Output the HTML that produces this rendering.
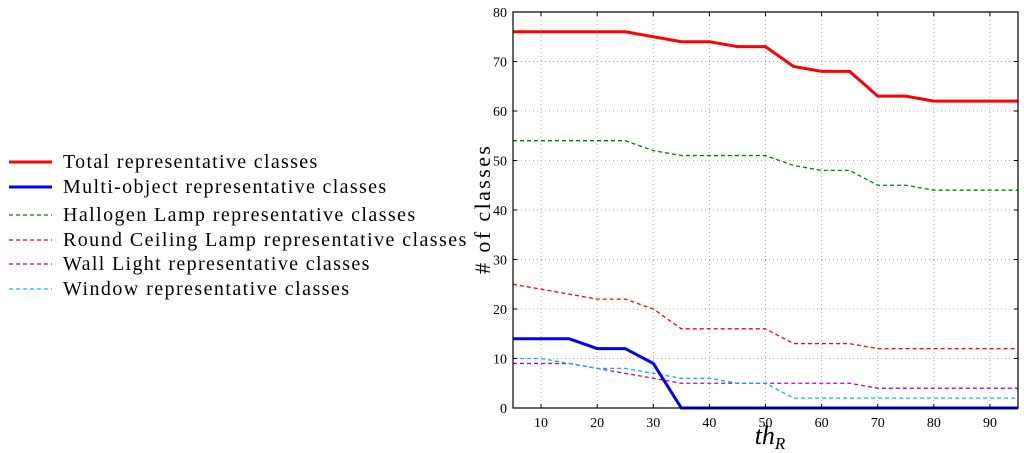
<!DOCTYPE html>
<html><head><meta charset="utf-8"><style>
body{margin:0;background:#fff;}
svg{display:block;font-family:"Liberation Serif",serif;}
</style></head><body>
<svg id="c" width="1024" height="453"></svg>
<script>
const xs=[5,10,15,20,25,30,35,40,45,50,55,60,65,70,75,80,85,90,95];
const totalVals=[76,76,76,76,76,75,74,74,73,73,69,68,68,63,63,62,62,62,62];
const multiVals=[14,14,14,12,12,9,0,0,0,0,0,0,0,0,0,0,0,0,0];
const hallogenVals=[54,54,54,54,54,52,51,51,51,51,49,48,48,45,45,44,44,44,44];
const roundVals=[25,24,23,22,22,20,16,16,16,16,13,13,13,12,12,12,12,12,12];
const wallVals=[9,9,9,8,7,6,5,5,5,5,5,5,5,4,4,4,4,4,4];
const windowVals=[10,10,9,8,8,7,6,6,5,5,2,2,2,2,2,2,2,2,2];
const xTicks=[10,20,30,40,50,60,70,80,90];
const yTicks=[0,10,20,30,40,50,60,70,80];
const seriesNames=["Total representative classes","Multi-object representative classes","Hallogen Lamp representative classes","Round Ceiling Lamp representative classes","Wall Light representative classes","Window representative classes"];

const NS="http://www.w3.org/2000/svg";
const svg=document.getElementById('c');
const L=513,R=1018,T=12,B=408;
const X=v=>L+(v-5)/90*(R-L);
const Y=v=>B-v/80*(B-T);
function mk(tag,attrs,parent){const e=document.createElementNS(NS,tag);for(const k in attrs)e.setAttribute(k,attrs[k]);(parent||svg).appendChild(e);return e;}

xTicks.forEach(t=>{const g=mk('line',{x1:X(t),x2:X(t),y1:T,y2:B,stroke:'#aaa','stroke-dasharray':'1,3'});

});
yTicks.forEach(t=>{const g=mk('line',{x1:L,x2:R,y1:Y(t),y2:Y(t),stroke:'#aaa','stroke-dasharray':'1,3'});

});

const series=[
 {v:hallogenVals,c:'#008000',w:1.3,d:'4,3',n:'hallogen-line'},
 {v:roundVals,c:'#ff0000',w:1.3,d:'4,3',n:'round-ceiling-line'},
 {v:wallVals,c:'#bf00bf',w:1.3,d:'4,3',n:'wall-light-line'},
 {v:windowVals,c:'#00bfbf',w:1.3,d:'4,3',n:'window-line'},
 {v:totalVals,c:'#ff0000',w:3,d:'',n:'total-line'},
 {v:multiVals,c:'#0000ff',w:3,d:'',n:'multi-object-line'}];
series.forEach(s=>{
 const p=mk('polyline',{points:xs.map((x,i)=>X(x)+','+Y(s.v[i])).join(' '),fill:'none',stroke:s.c,'stroke-width':s.w,'stroke-dasharray':s.d});
 
 
});

const fr=mk('rect',{x:L,y:T,width:R-L,height:B-T,fill:'none',stroke:'#000','stroke-width':1.2});



xTicks.forEach(t=>{
 mk('line',{x1:X(t),x2:X(t),y1:B,y2:B-4,stroke:'#000'});mk('line',{x1:X(t),x2:X(t),y1:T,y2:T+4,stroke:'#000'});
 const tx=mk('text',{x:X(t),y:B+19,'text-anchor':'middle','font-size':14});tx.textContent=t;
 
 
});
yTicks.forEach(t=>{
 mk('line',{x1:L,x2:L+4,y1:Y(t),y2:Y(t),stroke:'#000'});mk('line',{x1:R,x2:R-4,y1:Y(t),y2:Y(t),stroke:'#000'});
 const tx=mk('text',{x:L-6,y:Y(t)+5,'text-anchor':'end','font-size':14});tx.textContent=t;
 
 
});
const xt=mk('text',{x:770,y:444,'text-anchor':'middle','font-size':26,'font-style':'italic'});
xt.innerHTML='th<tspan font-size="17" dy="5">R</tspan>';


const yt=mk('text',{x:0,y:0,'text-anchor':'middle','font-size':22,'textLength':128,transform:'translate(490,210) rotate(-90)'});
yt.textContent='# of classes';



const legY=[162,187,215,240,264,289];
const legStyle=[{c:'#ff0000',w:3,d:''},{c:'#0000ff',w:3,d:''},{c:'#008000',w:1.3,d:'4,3'},{c:'#ff0000',w:1.3,d:'4,3'},{c:'#bf00bf',w:1.3,d:'4,3'},{c:'#00bfbf',w:1.3,d:'4,3'}];
seriesNames.forEach((n,i)=>{
 const g=mk('g',{});
 
 
 mk('line',{x1:9,x2:52,y1:legY[i],y2:legY[i],stroke:legStyle[i].c,'stroke-width':legStyle[i].w,'stroke-dasharray':legStyle[i].d},g);
 const t=mk('text',{x:63,y:legY[i]+6,'font-size':20},g);t.textContent=n;
 const w=t.getComputedTextLength();
 t.setAttribute('textLength',w*403/(329*20/19));
});
</script>
</body></html>
